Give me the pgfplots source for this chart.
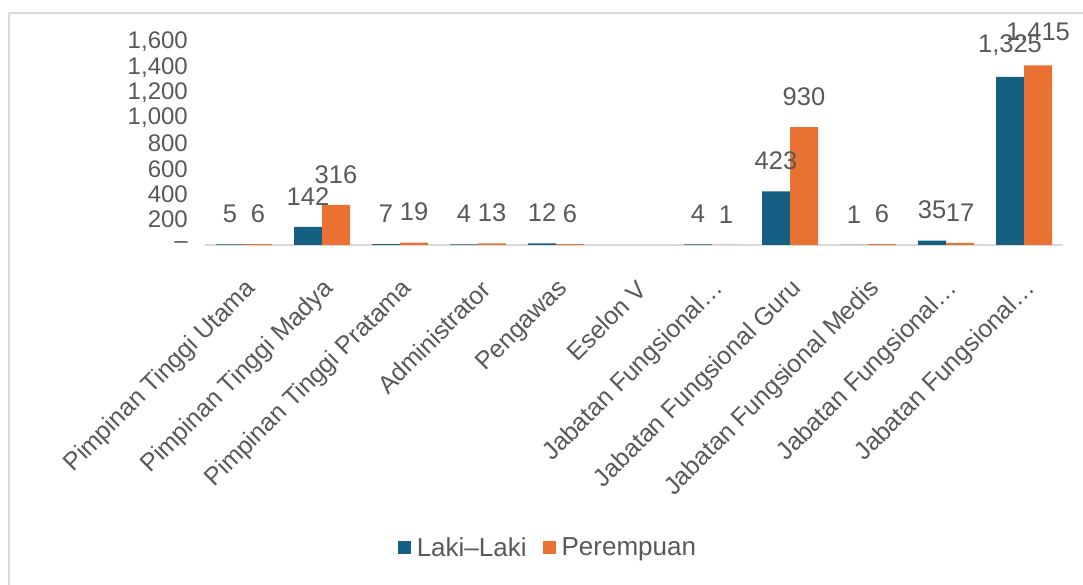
\documentclass[border=0pt]{standalone}
\usepackage{fontspec}
\setmainfont{Liberation Sans}
\usepackage{pgfplots}
\pgfplotsset{compat=1.18}
\definecolor{cblue}{HTML}{156082}
\definecolor{corange}{HTML}{E97132}
\definecolor{ctext}{HTML}{595959}
\definecolor{cline}{HTML}{D9D9D9}
\begin{document}
\begin{tikzpicture}[x=1pt,y=1pt]
\useasboundingbox[fill=white] (0,0) rectangle (1083,585);
\draw[cline, line width=2pt] (9,0) -- (9,572) -- (1083,572);
\begin{axis}[
  at={(205pt,340pt)}, anchor=south west,
  scale only axis, width=858pt, height=203pt,
  xmin=-0.5, xmax=10.5, ymin=0, ymax=1600,
  enlargelimits=false,
  ybar=0pt, bar width=28pt,
  axis x line*=bottom, axis y line*=left,
  x axis line style={cline, line width=2pt, -},
  y axis line style={draw=none},
  major tick length=0pt,
  ytick={0,200,...,1600},
  yticklabels={--,200,400,600,800,{1,000},{1,200},{1,400},{1,600}},
  yticklabel style={font=\fontsize{24}{28}\selectfont, text=ctext, inner sep=0pt, anchor=east, xshift=-17pt},
  xtick={0,...,10},
  xticklabels={Pimpinan Tinggi Utama, Pimpinan Tinggi Madya, Pimpinan Tinggi Pratama, Administrator, Pengawas, Eselon V, Jabatan Fungsional\dots, Jabatan Fungsional Guru, Jabatan Fungsional Medis, Jabatan Fungsional\dots, Jabatan Fungsional\dots},
  xticklabel style={font=\fontsize{25}{29}\selectfont, text=ctext, inner sep=0pt, xshift=8pt, yshift=-40pt, rotate=45, anchor=east},
  /pgf/number format/.cd, 1000 sep={,}, assume math mode=true, /pgfplots/.cd,
  nodes near coords,
  every node near coord/.append style={font=\fontsize{25.5}{29}\selectfont, text=ctext, anchor=south, yshift=18pt},
  legend style={at={(0.402,-1.49)}, anchor=center, draw=none, fill=none, font=\fontsize{26}{30}\selectfont, text=ctext, legend columns=2, /tikz/every even column/.append style={column sep=10pt}, nodes={inner xsep=6pt}},
  legend image code/.code={\fill[#1] (0pt,-6.5pt) rectangle (13pt,6.5pt);},
]
\addplot[fill=cblue, draw=none] coordinates {(0,5)(1,142)(2,7)(3,4)(4,12)(6,4)(7,423)(8,1)(9,35)(10,1325)};
\addplot[fill=corange, draw=none] coordinates {(0,6)(1,316)(2,19)(3,13)(4,6)(6,1)(7,930)(8,6)(9,17)(10,1415)};
\legend{Laki–Laki, Perempuan}
\end{axis}
\end{tikzpicture}
\end{document}
